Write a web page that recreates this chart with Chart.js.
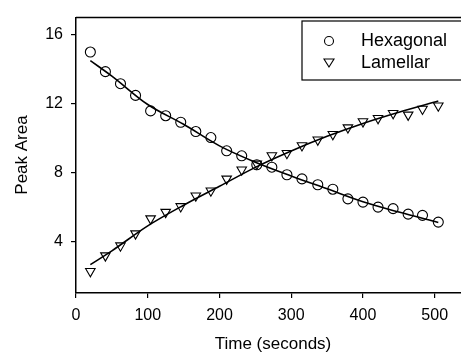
<!DOCTYPE html>
<html lang="en">
<head>
  <meta charset="UTF-8">
  <title>Peak Area vs Time</title>
  <script src="https://cdn.jsdelivr.net/npm/chart.js"></script>
  <style>
    html, body { margin: 0; padding: 0; background: #fff; overflow: hidden; }
    #wrap { width: 470px; height: 354px; }
  </style>
</head>
<body>
  <div id="wrap"><canvas id="peakChart" width="470" height="354"></canvas></div>

  <script>
    // measured time points (s)
    const times = [20, 41, 62, 83, 104, 125, 146, 167, 188, 210, 231, 252,
                   273, 294, 315, 337, 358, 379, 400, 421, 442, 463, 483, 505];
    const hexagonal = [15.0, 13.86, 13.16, 12.48, 11.58, 11.3, 10.92, 10.38, 10.03, 9.26, 8.97, 8.45,
                       8.31, 7.87, 7.63, 7.29, 7.03, 6.47, 6.28, 5.99, 5.9, 5.58, 5.51, 5.12];
    const lamellar = [2.26, 3.17, 3.75, 4.45, 5.32, 5.7, 6.03, 6.65, 6.94, 7.63, 8.16, 8.5,
                      8.99, 9.12, 9.57, 9.9, 10.22, 10.61, 10.96, 11.15, 11.44, 11.35, 11.69, 11.88];

    // fitted curves
    const fitTimes = [20, 50, 100, 150, 200, 250, 300, 350, 400, 450, 505];
    const hexFit = [14.5, 13.6, 11.95, 10.8, 9.55, 8.6, 7.8, 7.05, 6.3, 5.7, 5.1];
    const lamFit = [2.65, 3.45, 4.9, 6.1, 7.2, 8.3, 9.25, 10.1, 10.85, 11.5, 12.15];

    const xTicks = [0, 100, 200, 300, 400, 500];
    const yTicks = [4, 8, 12, 16];

    const toXY = (xs, ys) => xs.map((x, i) => ({ x: x, y: ys[i] }));

    const family = '"Liberation Sans", Arial, sans-serif';

    // top/right frame + inset legend + axis titles
    const framePlugin = {
      id: 'frame',
      afterDraw(chart) {
        const c = chart.ctx, a = chart.chartArea;
        c.save();
        c.strokeStyle = '#000';
        c.lineWidth = 1.5;
        c.beginPath();
        c.moveTo(a.left, a.top);
        c.lineTo(a.right, a.top);
        c.lineTo(a.right, a.bottom);
        c.stroke();

        // legend box
        c.lineWidth = 1.2;
        c.strokeRect(302, 21, 170, 59);
        c.lineWidth = 1.1;
        c.beginPath();
        c.arc(329, 41, 4.5, 0, Math.PI * 2);
        c.stroke();
        c.beginPath();
        c.moveTo(324, 59);
        c.lineTo(334, 59);
        c.lineTo(329, 67);
        c.closePath();
        c.stroke();
        c.fillStyle = '#000';
        c.font = '18px ' + family;
        c.textBaseline = 'middle';
        c.fillText('Hexagonal', 361, 41);
        c.fillText('Lamellar', 361, 63);

        // axis titles
        c.font = '17px ' + family;
        c.textAlign = 'center';
        c.fillText('Time (seconds)', 273, 344);
        c.translate(22, 155);
        c.rotate(-Math.PI / 2);
        c.fillText('Peak Area', 0, 0);
        c.restore();
      }
    };

    const font = { family: family, size: 16 };

    new Chart(document.getElementById('peakChart'), {
      type: 'scatter',
      data: {
        datasets: [
          {
            label: 'Hexagonal fit',
            data: toXY(fitTimes, hexFit),
            showLine: true,
            pointRadius: 0,
            borderColor: '#000',
            borderWidth: 1.6,
            tension: 0.4,
            cubicInterpolationMode: 'monotone'
          },
          {
            label: 'Lamellar fit',
            data: toXY(fitTimes, lamFit),
            showLine: true,
            pointRadius: 0,
            borderColor: '#000',
            borderWidth: 1.6,
            tension: 0.4,
            cubicInterpolationMode: 'monotone'
          },
          {
            label: 'Hexagonal',
            data: toXY(times, hexagonal),
            pointStyle: 'circle',
            pointRadius: 5,
            pointBorderWidth: 1.1,
            borderColor: '#000',
            backgroundColor: 'rgba(0,0,0,0)'
          },
          {
            label: 'Lamellar',
            data: toXY(times, lamellar),
            pointStyle: 'triangle',
            pointRotation: 180,
            pointRadius: 5.5,
            pointBorderWidth: 1.1,
            borderColor: '#000',
            backgroundColor: 'rgba(0,0,0,0)'
          }
        ]
      },
      options: {
        responsive: false,
        animation: false,
        layout: { padding: { top: 15, right: 5, left: 0, bottom: 0 } },
        scales: {
          x: {
            type: 'linear',
            min: 0,
            max: 540,
            afterBuildTicks: axis => { axis.ticks = xTicks.map(v => ({ value: v })); },
            afterFit: axis => { axis.height = 61; },
            border: { display: true, color: '#000', width: 1.5 },
            grid: { display: true, drawOnChartArea: false, drawTicks: true, tickLength: 5, color: '#000', lineWidth: 1.2 },
            ticks: { color: '#000', font: font, padding: 8, maxRotation: 0 }
          },
          y: {
            type: 'linear',
            min: 1,
            max: 17,
            afterBuildTicks: axis => { axis.ticks = yTicks.map(v => ({ value: v })); },
            afterFit: axis => { axis.width = 76; },
            border: { display: true, color: '#000', width: 1.5 },
            grid: { display: true, drawOnChartArea: false, drawTicks: true, tickLength: 5, color: '#000', lineWidth: 1.2 },
            ticks: { color: '#000', font: font, padding: 8 }
          }
        },
        plugins: {
          legend: { display: false },
          tooltip: { enabled: false }
        }
      },
      plugins: [framePlugin]
    });
  </script>
</body>
</html>
